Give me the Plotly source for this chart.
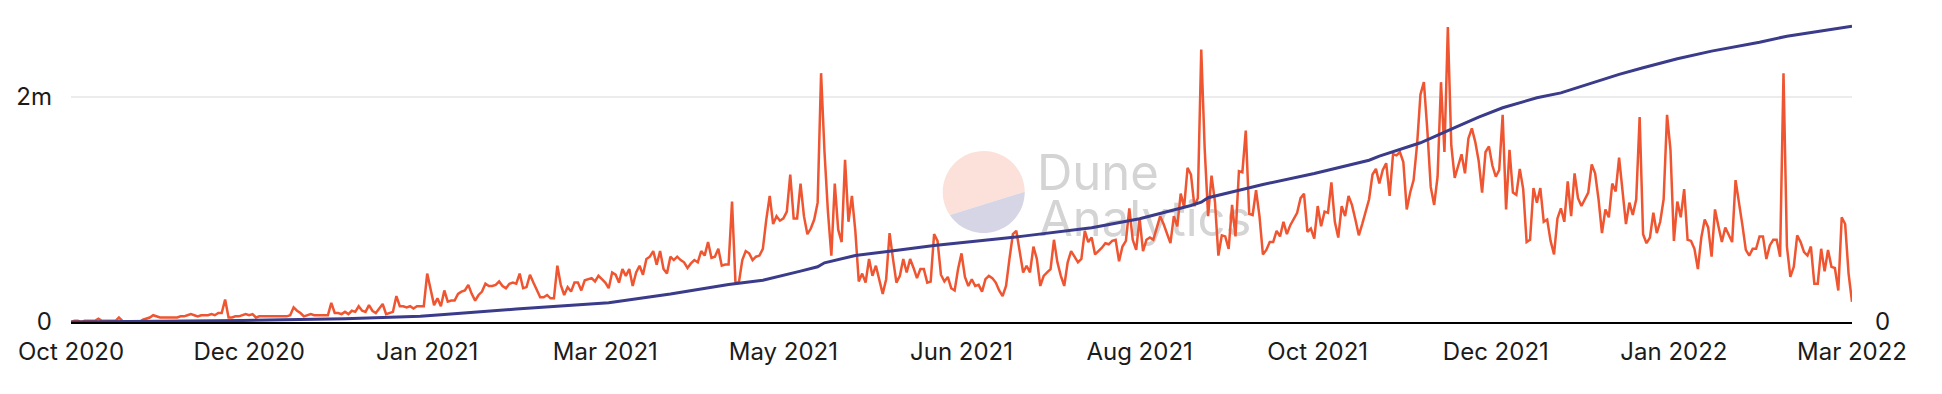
import numpy as np
import pandas as pd
import plotly.graph_objects as go

# ---------------- data ----------------
start_date = "2020-10-11"

daily_millions = [
    0.00, 0.01, 0.01, 0.00, 0.01, 0.01, 0.01, 0.01, 0.03, 0.01,
    0.01, 0.01, 0.01, 0.01, 0.04, 0.01, 0.00, 0.00, 0.00, 0.00,
    0.00, 0.02, 0.03, 0.04, 0.06, 0.05, 0.04, 0.04, 0.04, 0.04,
    0.04, 0.04, 0.05, 0.05, 0.06, 0.07, 0.06, 0.05, 0.06, 0.06,
    0.06, 0.07, 0.06, 0.08, 0.08, 0.20, 0.04, 0.04, 0.05, 0.05,
    0.06, 0.07, 0.06, 0.07, 0.04, 0.05, 0.05, 0.05, 0.05, 0.05,
    0.05, 0.05, 0.05, 0.05, 0.06, 0.13, 0.10, 0.08, 0.05, 0.06,
    0.07, 0.06, 0.06, 0.06, 0.06, 0.06, 0.17, 0.08, 0.08, 0.07,
    0.09, 0.07, 0.10, 0.09, 0.14, 0.10, 0.09, 0.15, 0.10, 0.08,
    0.12, 0.16, 0.07, 0.08, 0.09, 0.23, 0.14, 0.14, 0.13, 0.14,
    0.12, 0.14, 0.14, 0.14, 0.43, 0.29, 0.15, 0.21, 0.14, 0.28,
    0.18, 0.19, 0.19, 0.25, 0.27, 0.28, 0.33, 0.25, 0.19, 0.24,
    0.27, 0.34, 0.32, 0.32, 0.33, 0.36, 0.32, 0.30, 0.34, 0.35,
    0.34, 0.43, 0.30, 0.31, 0.42, 0.35, 0.29, 0.22, 0.22, 0.24,
    0.21, 0.21, 0.50, 0.33, 0.24, 0.31, 0.27, 0.35, 0.35, 0.28,
    0.37, 0.38, 0.39, 0.36, 0.41, 0.38, 0.35, 0.30, 0.44, 0.42,
    0.35, 0.47, 0.41, 0.47, 0.32, 0.44, 0.50, 0.42, 0.56, 0.58,
    0.63, 0.51, 0.63, 0.47, 0.43, 0.58, 0.55, 0.58, 0.55, 0.53,
    0.48, 0.52, 0.55, 0.53, 0.63, 0.59, 0.71, 0.57, 0.58, 0.65,
    0.50, 0.51, 0.51, 1.07, 0.35, 0.35, 0.55, 0.63, 0.61, 0.55,
    0.58, 0.59, 0.65, 0.91, 1.12, 0.87, 0.94, 0.90, 0.92, 0.98,
    1.31, 0.92, 0.92, 1.23, 0.94, 0.78, 0.83, 0.91, 1.06, 2.21,
    1.51, 0.98, 0.59, 1.23, 0.82, 0.71, 1.44, 0.89, 1.12, 0.81,
    0.36, 0.43, 0.35, 0.56, 0.41, 0.50, 0.38, 0.25, 0.38, 0.79,
    0.56, 0.35, 0.41, 0.56, 0.44, 0.56, 0.48, 0.39, 0.47, 0.47,
    0.35, 0.36, 0.78, 0.72, 0.42, 0.36, 0.40, 0.30, 0.28, 0.47,
    0.61, 0.40, 0.32, 0.38, 0.32, 0.33, 0.27, 0.38, 0.41, 0.39,
    0.35, 0.28, 0.23, 0.32, 0.56, 0.78, 0.81, 0.61, 0.44, 0.50,
    0.44, 0.67, 0.56, 0.32, 0.41, 0.44, 0.47, 0.73, 0.53, 0.41,
    0.32, 0.53, 0.63, 0.58, 0.53, 0.56, 0.81, 0.71, 0.75, 0.60,
    0.63, 0.66, 0.70, 0.69, 0.72, 0.73, 0.54, 0.67, 0.72, 1.01,
    0.73, 0.64, 0.92, 0.63, 0.73, 0.75, 0.73, 0.83, 0.94, 0.87,
    0.79, 0.70, 0.94, 0.85, 1.14, 1.02, 1.37, 1.31, 1.03, 1.10,
    2.42, 1.54, 0.94, 1.30, 1.07, 0.59, 0.77, 0.76, 0.65, 1.04,
    0.76, 1.34, 1.33, 1.70, 0.96, 0.95, 1.17, 0.94, 0.60, 0.64,
    0.71, 0.71, 0.81, 0.76, 0.89, 0.78, 0.86, 0.92, 0.97, 1.10,
    1.14, 0.80, 0.83, 0.74, 1.03, 0.85, 0.98, 0.97, 1.24, 0.89,
    0.75, 1.03, 0.94, 1.12, 1.04, 0.91, 0.77, 0.87, 0.98, 1.09,
    1.31, 1.36, 1.23, 1.35, 1.41, 1.12, 1.49, 1.48, 1.51, 1.42,
    1.00, 1.15, 1.26, 1.57, 2.02, 2.13, 1.71, 1.20, 1.04, 1.29,
    2.13, 1.51, 2.62, 1.57, 1.28, 1.38, 1.49, 1.32, 1.63, 1.72,
    1.60, 1.43, 1.15, 1.51, 1.56, 1.39, 1.29, 1.35, 1.84, 1.00,
    1.53, 1.15, 1.13, 1.36, 1.18, 0.71, 0.73, 1.19, 1.06, 1.19,
    0.89, 0.91, 0.72, 0.60, 0.92, 1.01, 0.89, 1.25, 0.94, 1.32,
    1.10, 1.03, 1.09, 1.15, 1.40, 1.32, 1.09, 0.79, 1.00, 0.93,
    1.23, 1.16, 1.46, 1.18, 0.87, 1.06, 0.95, 1.09, 1.82, 0.78,
    0.70, 0.75, 0.97, 0.79, 0.89, 1.09, 1.84, 1.53, 0.72, 1.07,
    0.93, 1.18, 0.73, 0.72, 0.65, 0.47, 0.75, 0.91, 0.84, 0.58,
    1.00, 0.85, 0.71, 0.84, 0.78, 0.71, 1.26, 1.07, 0.86, 0.64,
    0.59, 0.65, 0.65, 0.76, 0.76, 0.56, 0.68, 0.73, 0.73, 0.58,
    2.21, 0.67, 0.40, 0.49, 0.77, 0.71, 0.62, 0.59, 0.67, 0.34,
    0.34, 0.65, 0.45, 0.64, 0.49, 0.48, 0.28, 0.93, 0.87, 0.43, 0.18,
]

# cumulative series (right axis), read at selected days
cum_days = [0, 25, 50, 80, 102, 108, 130, 157, 175, 192, 202, 213, 218, 220,
            229, 239, 252, 271, 278, 298, 312, 327, 330, 332, 343, 348, 363,
            379, 382, 394, 404, 411, 418, 428, 435, 445, 452, 459, 469, 479,
            493, 501, 510, 520]
cum_millions = [0.0, 0.8, 2.0, 4.3, 7.6, 9.5, 17.1, 25.3, 36.8, 49.4, 55.0, 66.9,
                72.6, 77.9, 87.5, 93.2, 100.7, 109.5, 113.0, 124.0, 135.8, 153.3,
                157.7, 163.5, 175.3, 181.0, 195.4, 212.9, 218.2, 235.8, 255.6,
                269.5, 281.9, 295.0, 301.5, 315.6, 325.8, 334.5, 346.4, 356.4,
                368.2, 376.1, 382.0, 389.3]

tick_labels = ["Oct 2020", "Dec 2020", "Jan 2021", "Mar 2021", "May 2021", "Jun 2021",
               "Aug 2021", "Oct 2021", "Dec 2021", "Jan 2022", "Mar 2022"]
tick_step_days = 52
left_tickvals = [0, 2]
left_ticktext = ["0", "2m"]
right_tickvals = [0]
right_ticktext = ["0"]

# ---------------- figure ----------------
W, H = 1942, 394
L, R, T, B = 71, 90, 18, 72
PW, PH = W - L - R, H - T - B

dates = pd.date_range(start_date, periods=len(daily_millions), freq="D")
tick_dates = list(dates[::tick_step_days][:len(tick_labels)])
cum_dates = dates[cum_days]

FONT = "Inter, Roboto, sans-serif"
tickfont = dict(family=FONT, size=24, color="#1b1b1b")

fig = go.Figure()
fig.add_trace(go.Scatter(x=dates, y=daily_millions, mode="lines",
                         line=dict(color="#ef5530", width=2.5), yaxis="y",
                         hoverinfo="skip", showlegend=False))
fig.add_trace(go.Scatter(x=cum_dates, y=cum_millions, mode="lines",
                         line=dict(color="#3a3b8a", width=3), yaxis="y2",
                         hoverinfo="skip", showlegend=False))


def px(x):
    return (x - L) / PW


def py(y):
    return (H - B - y) / PH


# watermark logo (decoration)
cx, cy, rad = 983.7, 192.0, 41.0
a0, a1 = np.deg2rad(-0.4), np.deg2rad(145.7)


def arc_path(t_start, t_end):
    ts = np.linspace(t_start, t_end, 60)
    pts = [(px(cx + rad * np.cos(t)), py(cy + rad * np.sin(t))) for t in ts]
    return "M " + " L ".join(f"{x:.5f},{y:.5f}" for x, y in pts) + " Z"


shapes = [
    dict(type="path", xref="paper", yref="paper", path=arc_path(a1, a0 + 2 * np.pi),
         fillcolor="#fce1da", line=dict(width=0), layer="below"),
    dict(type="path", xref="paper", yref="paper", path=arc_path(a0, a1),
         fillcolor="#d5d5e6", line=dict(width=0), layer="below"),
    dict(type="rect", xref="paper", yref="paper", x0=px(1034), x1=px(1320),
         y0=py(190), y1=py(150), line=dict(width=0), fillcolor="rgba(0,0,0,0)",
         layer="below",
         label=dict(text="Dune", textposition="middle left", padding=0,
                    font=dict(family=FONT, size=49, color="#d4d4d4"))),
    dict(type="rect", xref="paper", yref="paper", x0=px(1036), x1=px(1320),
         y0=py(236), y1=py(197), line=dict(width=0), fillcolor="rgba(0,0,0,0)",
         layer="below",
         label=dict(text="Analytics", textposition="middle left", padding=0,
                    font=dict(family=FONT, size=49, color="#d4d4d4"))),
]

fig.update_layout(
    width=W, height=H, autosize=False,
    margin=dict(l=L, r=R, t=T, b=B, pad=0),
    paper_bgcolor="white", plot_bgcolor="white",
    showlegend=False,
    shapes=shapes,
    xaxis=dict(type="date", range=[dates[0], dates[-1]], tickmode="array",
               tickvals=tick_dates, ticktext=tick_labels, showgrid=False,
               zeroline=False, showline=True, linecolor="#000000", linewidth=2,
               ticks="", tickfont=tickfont, ticklabelstandoff=7),
    yaxis=dict(range=[0, 2.7], tickmode="array", tickvals=left_tickvals,
               ticktext=left_ticktext, showgrid=True, gridcolor="#ececec",
               gridwidth=2, zeroline=False, showline=False, ticks="",
               tickfont=tickfont, ticklabelstandoff=18),
    yaxis2=dict(range=[0, 400], overlaying="y", side="right", tickmode="array",
                tickvals=right_tickvals, ticktext=right_ticktext, showgrid=False,
                zeroline=False, showline=False, ticks="", tickfont=tickfont,
                ticklabelstandoff=22),
)

fig.write_html("out.html", config={"displayModeBar": False},
               post_script="document.body.style.margin='0';document.body.style.overflow='hidden';")
